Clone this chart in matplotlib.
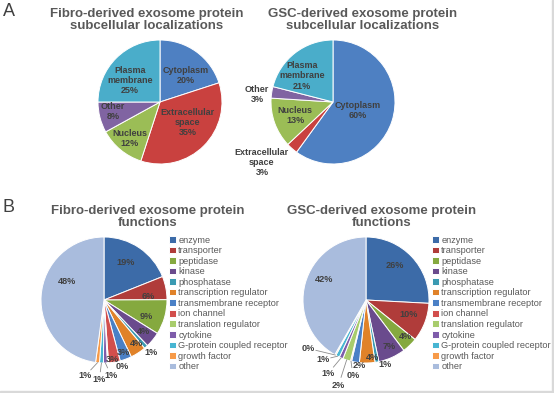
import numpy as np
import matplotlib.pyplot as plt
from matplotlib.patches import Rectangle

plt.rcParams['font.family'] = ['Liberation Sans', 'DejaVu Sans']

# ---- data ----
loc_names = ['Cytoplasm', 'Extracellular\nspace', 'Nucleus', 'Other', 'Plasma\nmembrane']
fibro_loc = [20, 35, 12, 8, 25]
gsc_loc = [60, 3, 13, 3, 21]

func_names = ['enzyme', 'transporter', 'peptidase', 'kinase', 'phosphatase',
              'transcription regulator', 'transmembrane receptor', 'ion channel',
              'translation regulator', 'cytokine', 'G-protein coupled receptor',
              'growth factor', 'other']
fibro_func = [19, 6, 9, 4, 1, 4, 3, 3, 0.3, 1, 1, 1, 48]
gsc_func = [26, 10, 4, 7, 1, 4, 2, 0.3, 2, 1, 1, 0.3, 42]

loc_colors = ['#4E80C2', '#C9413F', '#9BBD56', '#8064A2', '#4AADCA']
func_colors = ['#3C6BA8', '#B03C3A', '#85A93F', '#6A4B8D', '#3A9AB2', '#E08229',
               '#4A80C6', '#D24E4C', '#A8CC6C', '#7E5CAA', '#47B5D2', '#F79A48',
               '#A9BCDD']

W, H = 554, 393
fig = plt.figure(figsize=(W / 100, H / 100), dpi=100)

TITLE_C = '#595959'
LABEL_C = '#404040'


def pie_axes(cx, cy, r):
    ax = fig.add_axes([(cx - r) / W, (H - cy - r) / H, 2 * r / W, 2 * r / H])
    return ax


def draw_pie(ax, values, colors, texts, place, leaders=(), size=6.5):
    wedges, _ = ax.pie(values, colors=colors, startangle=90, counterclock=False,
                       wedgeprops=dict(edgecolor='white', linewidth=0.7))
    ax.set_xlim(-1, 1)
    ax.set_ylim(-1, 1)
    ax.axis('off')
    for i, (w, t) in enumerate(zip(wedges, texts)):
        mid = np.deg2rad((w.theta1 + w.theta2) / 2)
        r, dth = place[i]
        ang = mid + np.deg2rad(dth)
        x, y = r * np.cos(ang), r * np.sin(ang)
        ax.text(x, y, t, ha='center', va='center', fontsize=size,
                fontweight='bold', color=LABEL_C, linespacing=1.15, clip_on=False)
        if i in leaders:
            ex, ey = np.cos(mid), np.sin(mid)
            d = np.hypot(x - ex, y - ey)
            k = 0.13 / d
            ax.plot([ex, x + (ex - x) * k], [ey, y + (ey - y) * k],
                    color='#8C8C8C', lw=0.6, clip_on=False)
    return wedges


# ---- panel A ----
ax1 = pie_axes(160, 102, 62)
draw_pie(ax1, fibro_loc, loc_colors,
         [f'{n}\n{v}%' for n, v in zip(loc_names, fibro_loc)],
         [(0.6, -8), (0.56, 8), (0.76, 0), (0.77, -3), (0.6, 9)])

ax2 = pie_axes(333, 102, 62)
draw_pie(ax2, gsc_loc, loc_colors,
         [f'{n}\n{v}%' for n, v in zip(loc_names, gsc_loc)],
         [(0.42, 0), (1.51, -8), (0.65, 0), (1.23, 3), (0.65, 12)])

# ---- panel B ----
ax3 = pie_axes(104, 300, 63)
w3 = draw_pie(ax3, fibro_func, func_colors,
              [f'{v:.0f}%' for v in fibro_func],
              [(0.69, 5), (0.70, -6), (0.72, -6), (0.80, 1), (1.12, 0),
               (0.87, 4), (0.88, 0), (0.96, -2), (1.1, 12), (1.2, 4),
               (1.27, -1), (1.24, -8), (0.66, -23)],
              leaders=(9, 10, 11), size=6.6)

ax4 = pie_axes(366, 300, 63)
w4 = draw_pie(ax4, gsc_func, func_colors,
              [f'{v:.0f}%' for v in gsc_func],
              [(0.72, 7), (0.71, 2), (0.86, 3), (0.82, 2), (1.07, 6),
               (0.91, 5), (1.05, 4), (1.22, 4), (1.42, 0), (1.31, -4),
               (1.17, -9), (1.2, -21), (0.74, -11)],
              leaders=(7, 8, 9, 10, 11), size=6.6)

for wedges, x0 in ((w3, 169), (w4, 432)):
    fig.legend(wedges, func_names, loc='upper left',
               bbox_to_anchor=(x0 / W, 1 - 235.5 / H), frameon=False,
               fontsize=6.6, labelcolor=TITLE_C, handlelength=0.75,
               handleheight=0.75, handletextpad=0.25, labelspacing=0.17,
               borderpad=0, borderaxespad=0)

# ---- titles ----
titles = [('Fibro-derived exosome protein\nsubcellular localizations', 147, 20),
          ('GSC-derived exosome protein\nsubcellular localizations', 363, 20),
          ('Fibro-derived exosome protein\nfunctions', 148, 217),
          ('GSC-derived exosome protein\nfunctions', 382, 217)]
for t, x, y in titles:
    fig.text(x / W, 1 - y / H, t, ha='center', va='center', fontsize=9.5,
             fontweight='bold', color=TITLE_C, linespacing=1.1)

fig.text(9 / W, 1 - 11 / H, 'A', ha='center', va='center', fontsize=13, color=LABEL_C)
fig.text(9 / W, 1 - 207 / H, 'B', ha='center', va='center', fontsize=13, color=LABEL_C)

# light frame on right and bottom
fig.patches.append(Rectangle((552 / W, 0), 2 / W, 1, transform=fig.transFigure,
                             color='#D9D9D9', zorder=-1))
fig.patches.append(Rectangle((0, 0), 1, 2 / H, transform=fig.transFigure,
                             color='#D9D9D9', zorder=-1))

fig.savefig('out.png', dpi=100)
